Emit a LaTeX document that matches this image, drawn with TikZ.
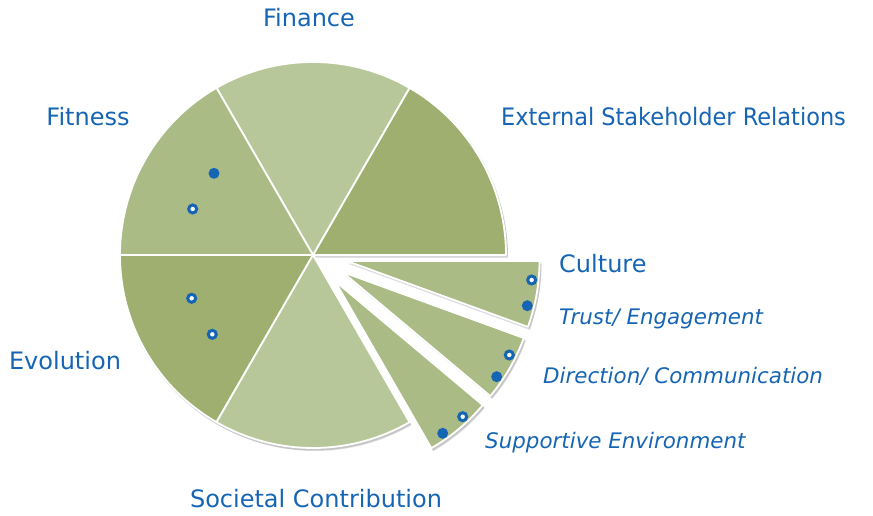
\documentclass[tikz,border=0pt]{standalone}
\usepackage{fontspec}
\setmainfont{DejaVu Sans}
\definecolor{lightg}{RGB}{184,199,153}
\definecolor{midg}{RGB}{170,187,133}
\definecolor{darkg}{RGB}{158,175,112}
\definecolor{lblue}{RGB}{22,101,180}
\begin{document}
\begin{tikzpicture}[x=1pt,y=1pt,
  slice/.style={draw=white, line width=1.8pt, line join=round},
  shade/.style={fill=black, opacity=0.12},
  lab/.style={text=lblue, font=\fontsize{24}{28}\selectfont, inner sep=0pt},
  ilab/.style={text=lblue, font=\itshape\fontsize{21.4}{25}\selectfont, inner sep=0pt},
  fdot/.style={circle, fill=lblue, minimum size=11pt, inner sep=0pt},
  odot/.style={circle, fill=white, draw=lblue, line width=3pt, minimum size=8pt, inner sep=0pt}]
\useasboundingbox (-313,-261) rectangle (560,255);
\def\R{193}
% shadows
\foreach \a/\b/\dx/\dy in {0/60/0/0, 60/120/0/0, 120/180/0/0, 180/240/0/0, 240/300/0/0,
   -20/0/33.5/-5.9, -40/-20/29.4/-17, -60/-40/21.9/-26}
  {\fill[shade] (\dx+2,\dy-3) -- ++(\a:\R) arc[start angle=\a, end angle=\b, radius=\R] -- cycle;
   \fill[shade] (\dx+1,\dy-1.5) -- ++(\a:\R+1) arc[start angle=\a, end angle=\b, radius=\R+1] -- cycle;}
% slices
\foreach \a/\b/\dx/\dy/\c in {0/60/0/0/darkg, 60/120/0/0/lightg, 120/180/0/0/midg, 180/240/0/0/darkg, 240/300/0/0/lightg,
   -20/0/33.5/-5.9/midg, -40/-20/29.4/-17/midg, -60/-40/21.9/-26/midg}
  \filldraw[slice, fill=\c] (\dx,\dy) -- ++(\a:\R) arc[start angle=\a, end angle=\b, radius=\R] -- cycle;
% dots
\node[fdot] (fit1) at (-99,81.7) {};
\node[odot] (fit2) at (-120.3,46) {};
\node[odot] (evo1) at (-121.3,-43.3) {};
\node[odot] (evo2) at (-100.7,-79.3) {};
\node[odot] (cul1) at (218.7,-25) {};
\node[fdot] (cul2) at (214.3,-50.7) {};
\node[odot] (cul3) at (196.3,-100) {};
\node[fdot] (cul4) at (183.7,-121.7) {};
\node[odot] (cul5) at (149.7,-161.7) {};
\node[fdot] (cul6) at (129.7,-178.3) {};
% labels
\node[lab, anchor=base] (fin) at (-4,228) {Finance};
\node[lab, anchor=base] (fitl) at (-225,129) {Fitness};
\node[lab, anchor=base west] (ext) at (188,129) {\scalebox{0.935}[1]{External Stakeholder Relations}};
\node[lab, anchor=base west] (cul) at (246,-18) {Culture};
\node[ilab, anchor=base west] (tru) at (246,-70) {Trust/ Engagement};
\node[ilab, anchor=base west] (dir) at (230,-129) {Direction/ Communication};
\node[ilab, anchor=base west] (sup) at (172,-194) {Supportive Environment};
\node[lab, anchor=base] (evol) at (-248,-115) {Evolution};
\node[lab, anchor=base] (soc) at (3,-253) {Societal Contribution};
\end{tikzpicture}
\end{document}
